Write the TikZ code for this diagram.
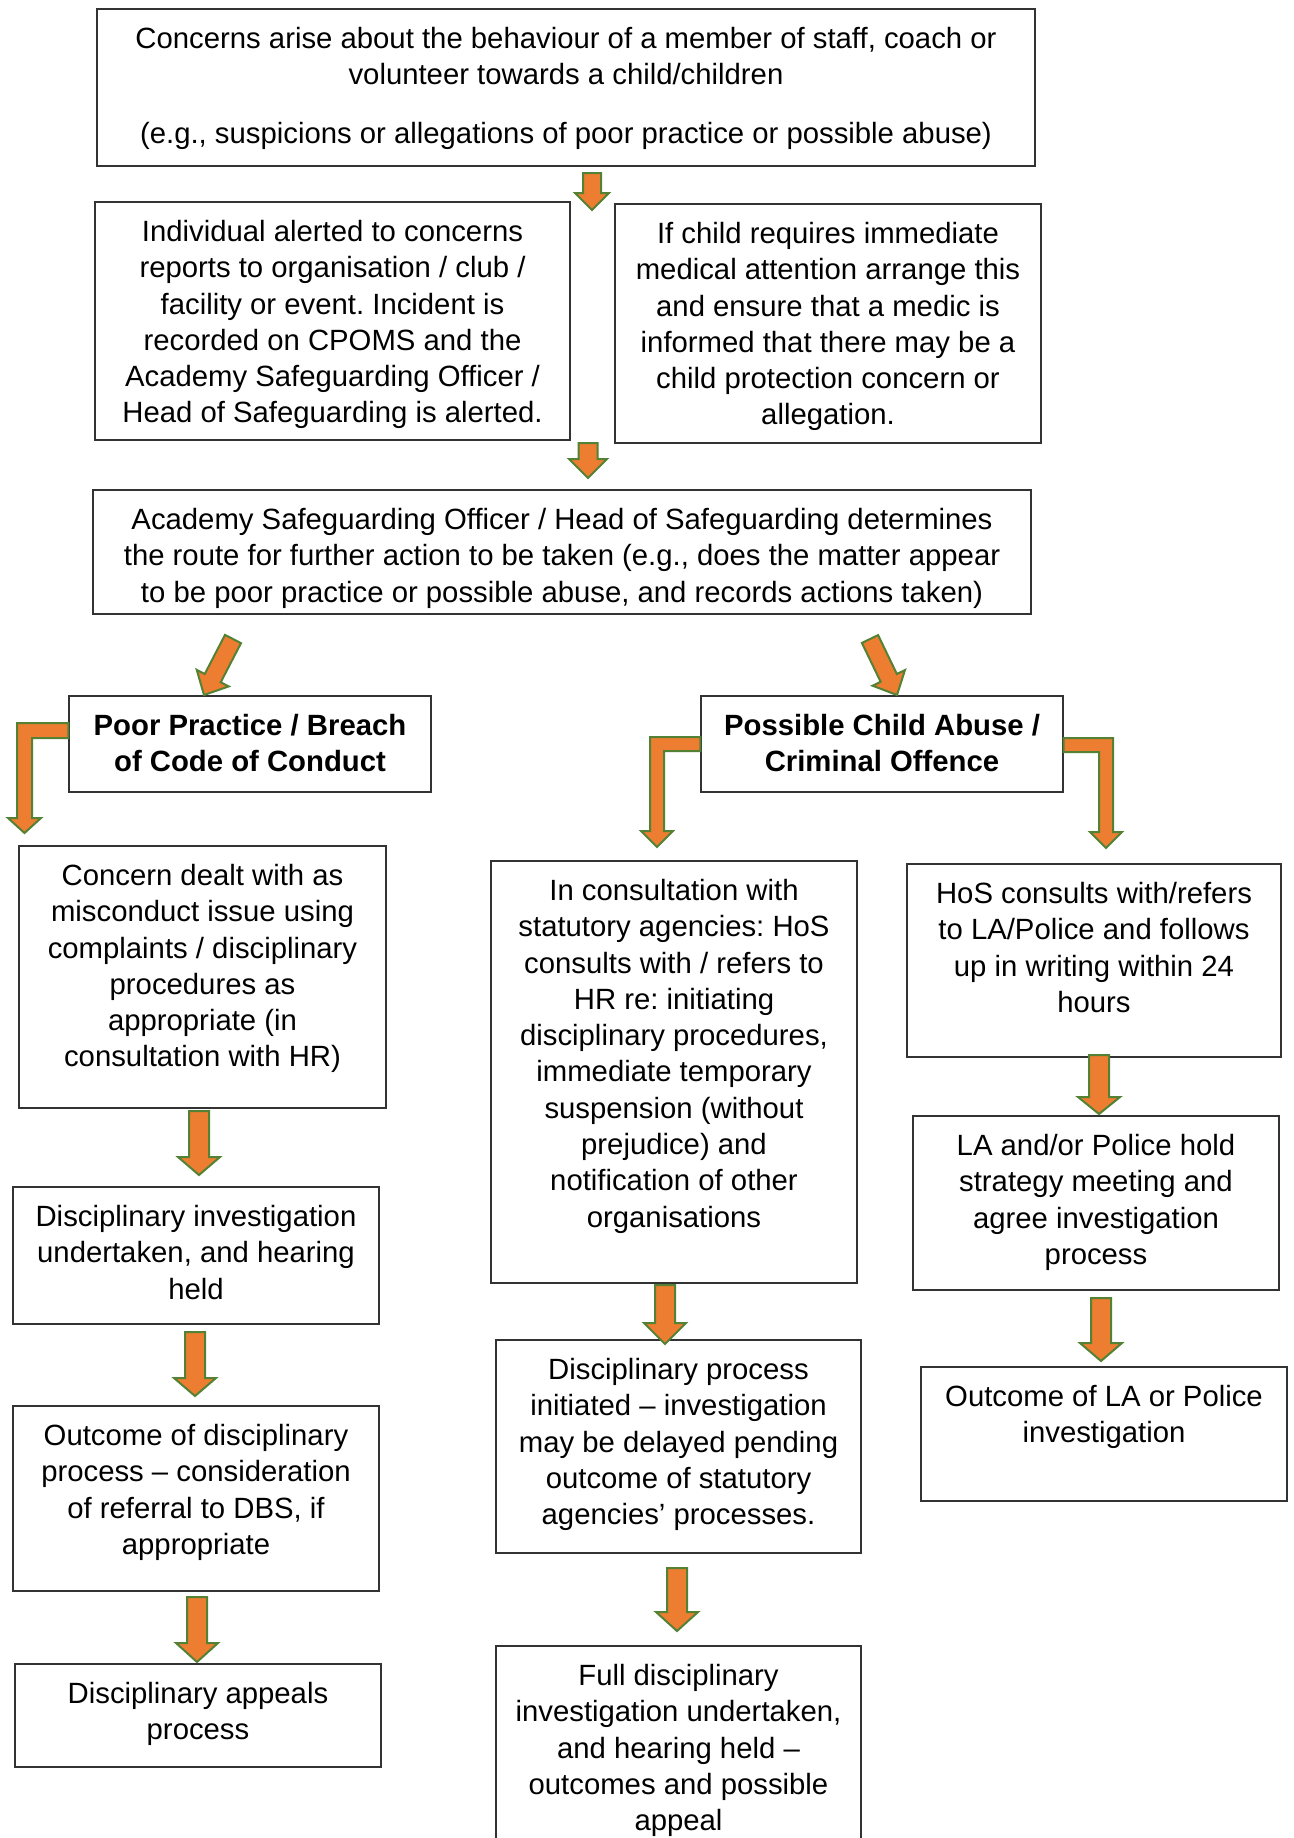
\documentclass[tikz,border=0pt]{standalone}
\usepackage{fontspec}
\setmainfont{Liberation Sans}
\usetikzlibrary{calc,fit}
\definecolor{arrfill}{HTML}{ED7D31}
\definecolor{arrline}{HTML}{548235}
\newcommand\bfnt{\fontsize{14.65pt}{18.15pt}\selectfont\frenchspacing}
\newcommand\fstrut{\rule{0pt}{12.7pt}}
\newcommand\blockarr[5]{%
  \path #1 coordinate (ba-t) #2 coordinate (ba-p);
  \path ($(ba-p)!#5!(ba-t)$) coordinate (ba-h);
  \draw[barrow] ($(ba-t)!#3!90:(ba-p)$) -- ($(ba-h)!#3!90:(ba-p)$) -- ($(ba-h)!#4!90:(ba-p)$) -- (ba-p) -- ($(ba-h)!#4!-90:(ba-p)$) -- ($(ba-h)!#3!-90:(ba-p)$) -- ($(ba-t)!#3!-90:(ba-p)$) -- cycle;}
\tikzset{
  boxnode/.style={draw=black!80, line width=0.65pt, inner sep=0pt},
  btxt/.style={align=center, inner sep=0pt, anchor=north, font=\bfnt, execute at begin node=\fstrut},
  barrow/.style={fill=arrfill, draw=arrline, line width=1pt, line join=miter}
}
\newcommand\mkbox[6]{%
  \node[boxnode, fit={(#2,#3) (#4,#5)}] (#1) {};
  \node[btxt] (#1-t) at ($(#1.north)+(0,18.5)$) {#6};}
\begin{document}
\begin{tikzpicture}[x=0.5pt,y=-0.5pt]
\useasboundingbox (0,0) rectangle (1294,1838);
\clip (0,0) rectangle (1294,1838);
\fill[white] (0,0) rectangle (1294,1838);

\mkbox{b1}{97}{9}{1035}{166}{Concerns arise about the behaviour of a member of staff, coach or\\volunteer towards a child/children\\[11pt](e.g., suspicions or allegations of poor practice or possible abuse)}
\mkbox{b2}{95}{202}{570}{440}{Individual alerted to concerns\\reports to organisation / club /\\facility or event. Incident is\\recorded on CPOMS and the\\Academy Safeguarding Officer /\\Head of Safeguarding is alerted.}
\mkbox{b3}{615}{204}{1041}{443}{If child requires immediate\\medical attention arrange this\\and ensure that a medic is\\informed that there may be a\\child protection concern or\\allegation.}
\mkbox{b4}{93}{490}{1031}{614}{Academy Safeguarding Officer / Head of Safeguarding determines\\the route for further action to be taken (e.g., does the matter appear\\to be poor practice or possible abuse, and records actions taken)}
\mkbox{b5}{69}{696}{431}{792}{\bfseries Poor Practice / Breach\\\bfseries of Code of Conduct}
\mkbox{b6}{701}{696}{1063}{792}{\bfseries Possible Child Abuse /\\\bfseries Criminal Offence}
\mkbox{b7}{19}{846}{386}{1108}{Concern dealt with as\\misconduct issue using\\complaints / disciplinary\\procedures as\\appropriate (in\\consultation with HR)}
\mkbox{b8}{13}{1187}{379}{1324}{Disciplinary investigation\\undertaken, and hearing\\held}
\mkbox{b9}{13}{1406}{379}{1591}{Outcome of disciplinary\\process – consideration\\of referral to DBS, if\\appropriate}
\mkbox{b10}{15}{1664}{381}{1767}{Disciplinary appeals\\process}
\mkbox{b11}{491}{861}{857}{1283}{In consultation with\\statutory agencies: HoS\\consults with / refers to\\HR re: initiating\\disciplinary procedures,\\immediate temporary\\suspension (without\\prejudice) and\\notification of other\\organisations}
\mkbox{b12}{496}{1340}{861}{1553}{Disciplinary process\\initiated – investigation\\may be delayed pending\\outcome of statutory\\agencies’ processes.}
\mkbox{b13}{496}{1646}{861}{1850}{Full disciplinary\\investigation undertaken,\\and hearing held –\\outcomes and possible\\appeal}
\mkbox{b14}{907}{864}{1281}{1057}{HoS consults with/refers\\to LA/Police and follows\\up in writing within 24\\hours}
\mkbox{b15}{913}{1116}{1279}{1290}{LA and/or Police hold\\strategy meeting and\\agree investigation\\process}
\mkbox{b16}{921}{1367}{1287}{1501}{Outcome of LA or Police\\investigation}

% straight block arrows
\blockarr{(592,173)}{(592,210)}{4.5pt}{8.5pt}{8.5pt}
\blockarr{(588,443)}{(588,478)}{4.75pt}{9.5pt}{9.5pt}
\blockarr{(233,639)}{(204,695)}{4.5pt}{9pt}{9.5pt}
\blockarr{(870,639)}{(897,695)}{4.5pt}{9pt}{9.5pt}
\blockarr{(199,1111)}{(199,1175)}{5pt}{10.5pt}{9pt}
\blockarr{(195,1332)}{(195,1396)}{5pt}{10.5pt}{9pt}
\blockarr{(197,1597)}{(197,1662)}{5pt}{10.5pt}{9.5pt}
\blockarr{(665,1285)}{(665,1344)}{5pt}{10.5pt}{10.5pt}
\blockarr{(677,1568)}{(677,1631)}{5pt}{10.5pt}{9.5pt}
\blockarr{(1099,1055)}{(1099,1114)}{5pt}{10.5pt}{8.5pt}
\blockarr{(1101,1298)}{(1101,1361)}{5pt}{10.5pt}{9pt}

% elbow arrows
\draw[barrow] (b5.west |- 0,723) -- (17,723) -- (17,818) -- (8,818) -- (24.5,833) -- (41,818) -- (32,818) -- (32,738) -- (b5.west |- 0,738) -- cycle;
\draw[barrow] (b6.west |- 0,737) -- (650,737) -- (650,831) -- (641,831) -- (657,847) -- (673,831) -- (664,831) -- (664,751) -- (b6.west |- 0,751) -- cycle;
\draw[barrow] (b6.east |- 0,738) -- (1113,738) -- (1113,832) -- (1122,832) -- (1106,848) -- (1090,832) -- (1099,832) -- (1099,752) -- (b6.east |- 0,752) -- cycle;
\end{tikzpicture}
\end{document}
